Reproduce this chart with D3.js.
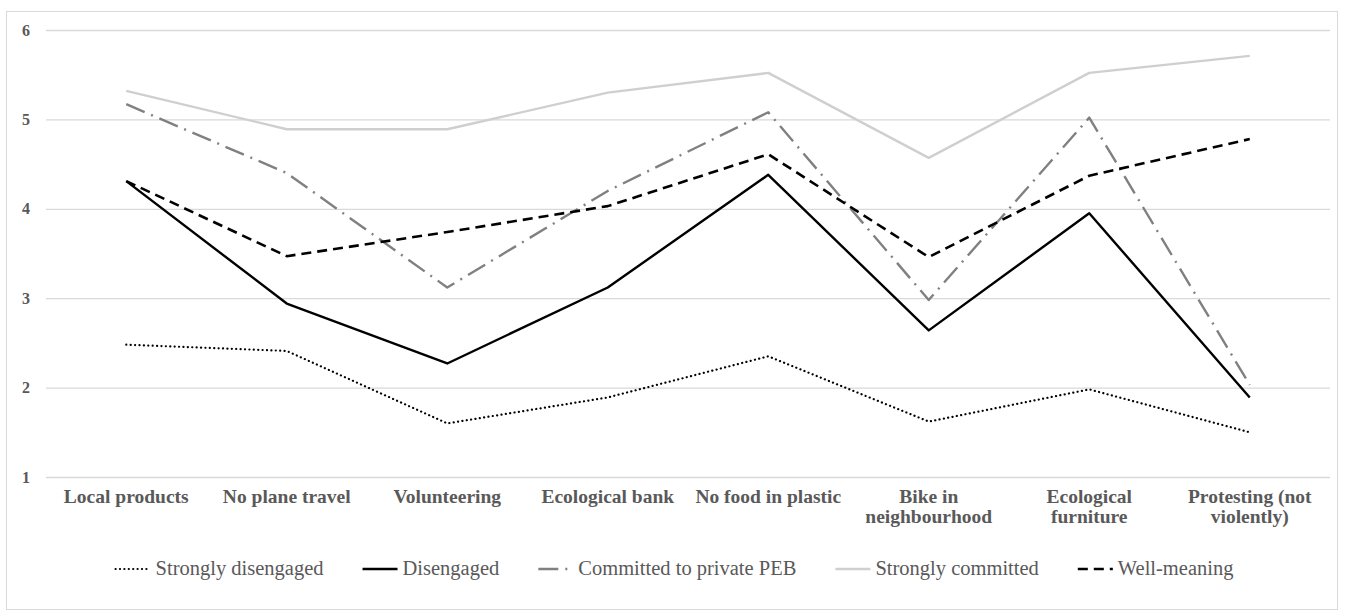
<!DOCTYPE html>
<html lang="en">
<head>
	<meta charset="UTF-8">
	<title>PEB profiles</title>
	<script src="https://cdn.jsdelivr.net/npm/d3@7"></script>
	<style>
		body { margin: 0; background: #fff; }
	</style>
</head>
<body>
	<div id="main"></div>
<script>
	var FONT = "'Liberation Serif', 'DejaVu Serif', serif";

	// categories (x axis)
	var categories = ["Local products", "No plane travel", "Volunteering", "Ecological bank",
		"No food in plastic", "Bike in neighbourhood", "Ecological furniture", "Protesting (not violently)"];
	// how the long labels wrap
	var categoryLines = [["Local products"], ["No plane travel"], ["Volunteering"], ["Ecological bank"],
		["No food in plastic"], ["Bike in", "neighbourhood"], ["Ecological", "furniture"], ["Protesting (not", "violently)"]];

	var yTicks = [1, 2, 3, 4, 5, 6];

	// series values
	var stronglyDisengaged = [2.48, 2.41, 1.60, 1.89, 2.35, 1.62, 1.98, 1.50];
	var disengaged = [4.31, 2.94, 2.27, 3.12, 4.38, 2.64, 3.95, 1.89];
	var committedPrivate = [5.17, 4.40, 3.12, 4.20, 5.08, 2.98, 5.02, 2.03];
	var stronglyCommitted = [5.32, 4.89, 4.89, 5.30, 5.52, 4.57, 5.52, 5.71];
	var wellMeaning = [4.31, 3.47, 3.74, 4.03, 4.61, 3.46, 4.37, 4.78];

	var seriesNames = ["Strongly disengaged", "Disengaged", "Committed to private PEB", "Strongly committed", "Well-meaning"];

	var series = [
		{name: seriesNames[0], values: stronglyDisengaged, color: "#000", dash: "0.1,4.3", cap: "round", width: 2.2},
		{name: seriesNames[1], values: disengaged, color: "#000", dash: null, cap: "butt", width: 2.4},
		{name: seriesNames[2], values: committedPrivate, color: "#808080", dash: "20,7,2,7", cap: "butt", width: 2.4},
		{name: seriesNames[3], values: stronglyCommitted, color: "#cfcfcf", dash: null, cap: "butt", width: 2.4},
		{name: seriesNames[4], values: wellMeaning, color: "#000", dash: "10,6", cap: "butt", width: 2.6}
	];

	var W = 1345, H = 612;
	var plotLeft = 46, plotRight = 1330, plotTop = 30, plotBottom = 477;

	var svg = d3.select("#main")
		.append("svg")
		.attr("width", W)
		.attr("height", H);

	// chart border
	svg.append("rect")
		.attr("x", 6.5).attr("y", 11.5)
		.attr("width", 1331).attr("height", 598)
		.attr("fill", "none")
		.attr("stroke", "#d9d9d9");

	var x = d3.scaleBand().domain(categories).range([plotLeft, plotRight]).padding(0);
	var y = d3.scaleLinear().domain([1, 6]).range([plotBottom, plotTop]);

	// gridlines + y labels
	var yAxis = svg.append("g")
		.attr("transform", "translate(" + plotLeft + ",0)")
		.call(d3.axisLeft(y).tickValues(yTicks).tickSize(-(plotRight - plotLeft)).tickPadding(16).tickFormat(d3.format("d")));
	yAxis.select(".domain").remove();
	yAxis.selectAll("line").attr("stroke", "#d9d9d9").attr("stroke-width", 1.3);
	yAxis.selectAll("text")
		.attr("font-size", 16)
		.attr("font-weight", "bold")
		.attr("fill", "#595959")
		.style("font-family", FONT);

	// x labels
	var xAxis = svg.append("g")
		.attr("transform", "translate(0," + plotBottom + ")")
		.call(d3.axisBottom(x).tickSize(0).tickFormat(""));
	xAxis.select(".domain").remove();
	xAxis.selectAll(".tick").each(function(d, i) {
		var t = d3.select(this).append("text")
			.attr("text-anchor", "middle")
			.attr("font-size", 19.5)
			.attr("font-weight", "bold")
			.attr("fill", "#595959")
			.style("font-family", FONT)
			.attr("y", 26);
		categoryLines[i].forEach(function(line, j) {
			t.append("tspan").attr("x", 0).attr("dy", j === 0 ? 0 : 20).text(line);
		});
	});

	var line = d3.line()
		.x(function(d, i) { return x(categories[i]) + x.bandwidth() / 2; })
		.y(function(d) { return y(d); });

	svg.selectAll("path.series")
		.data(series)
		.enter()
		.append("path")
		.attr("class", "series")
		.attr("d", function(s) { return line(s.values); })
		.attr("fill", "none")
		.attr("stroke", function(s) { return s.color; })
		.attr("stroke-width", function(s) { return s.width; })
		.attr("stroke-dasharray", function(s) { return s.dash; })
		.attr("stroke-linecap", function(s) { return s.cap; })
		.attr("stroke-linejoin", "round");

	// legend: symbol, small gap, text, then a fixed gap to the next entry, centred
	var legendY = 569, symLen = 35, symGap = 5, itemGap = 39;
	var leg = svg.append("g");
	var items = leg.selectAll("g.legend")
		.data(series)
		.enter()
		.append("g")
		.attr("class", "legend");
	items.append("line")
		.attr("x1", 0).attr("x2", symLen)
		.attr("y1", 0).attr("y2", 0)
		.attr("stroke", function(s) { return s.color; })
		.attr("stroke-width", function(s) { return s.width; })
		.attr("stroke-dasharray", function(s) { return s.dash; })
		.attr("stroke-linecap", function(s) { return s.cap; });
	items.append("text")
		.attr("x", symLen + symGap)
		.attr("y", 6)
		.attr("font-size", 20.5)
		.attr("fill", "#595959")
		.style("font-family", FONT)
		.text(function(s) { return s.name; });

	var cx = 0;
	items.each(function() {
		var g = d3.select(this);
		g.attr("transform", "translate(" + cx + ",0)");
		cx += symLen + symGap + g.select("text").node().getComputedTextLength() + itemGap;
	});
	var total = cx - itemGap;
	leg.attr("transform", "translate(" + (674.5 - total / 2) + "," + legendY + ")");
</script>
</body>
</html>
